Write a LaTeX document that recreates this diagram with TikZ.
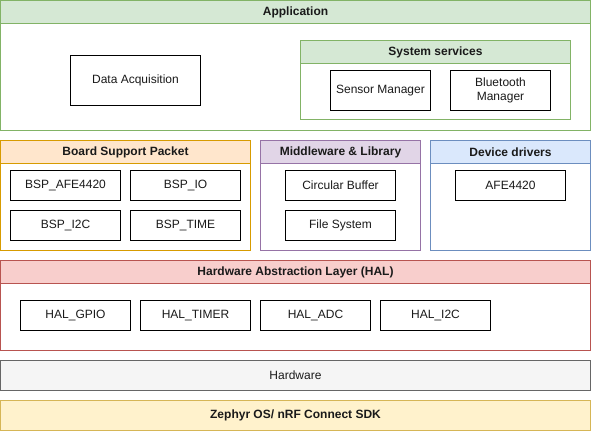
\documentclass[tikz,border=0pt]{standalone}
\usepackage{fontspec}
\setmainfont{Liberation Sans}
\definecolor{grnfill}{HTML}{D5E8D4}\definecolor{grnline}{HTML}{82B366}
\definecolor{orgfill}{HTML}{FFE6CC}\definecolor{orgline}{HTML}{D79B00}
\definecolor{purfill}{HTML}{E1D5E7}\definecolor{purline}{HTML}{9673A6}
\definecolor{blufill}{HTML}{DAE8FC}\definecolor{bluline}{HTML}{6C8EBF}
\definecolor{redfill}{HTML}{F8CECC}\definecolor{redline}{HTML}{B85450}
\definecolor{gryfill}{HTML}{F5F5F5}\definecolor{gryline}{HTML}{666666}
\definecolor{yelfill}{HTML}{FFF2CC}\definecolor{yelline}{HTML}{D6B656}
\definecolor{txt}{HTML}{1A1A1A}
\begin{document}
\begin{tikzpicture}[x=1pt,y=-1pt,
  cell/.style={draw, line width=1pt, rectangle, inner sep=0pt, outer sep=0pt,
    anchor=north west, align=center, text=txt,
    font=\fontsize{12}{14}\selectfont, fill=white},
  hdr/.style={cell, font=\fontsize{12}{14}\selectfont\bfseries},
  item/.style={cell, draw=black},
]
\useasboundingbox (0,0) rectangle (591,431);
% Application
\node[cell, draw=grnline, minimum width=590pt, minimum height=130pt] (app) at (0.5,0.5) {};
\node[hdr, draw=grnline, fill=grnfill, minimum width=590pt, minimum height=23pt] (apph) at (app.north west) {Application};
\node[item, minimum width=130pt, minimum height=50pt] (daq) at (70.5,55.5) {Data Acquisition};
\node[cell, draw=grnline, minimum width=270pt, minimum height=79pt] (sys) at (300.5,40.5) {};
\node[hdr, draw=grnline, fill=grnfill, minimum width=270pt, minimum height=23pt] (sysh) at (sys.north west) {System services};
\node[item, minimum width=100pt, minimum height=40pt] (sen) at (330.5,70.5) {Sensor Manager};
\node[item, minimum width=100pt, minimum height=40pt] (bt) at (450.5,70.5) {Bluetooth\\Manager};
% BSP
\node[cell, draw=orgline, minimum width=250pt, minimum height=110pt] (bsp) at (0.5,140.5) {};
\node[hdr, draw=orgline, fill=orgfill, minimum width=250pt, minimum height=23pt] (bsph) at (bsp.north west) {Board Support Packet};
\node[item, minimum width=110pt, minimum height=30pt] (bafe) at (10.5,170.5) {BSP\_AFE4420};
\node[item, minimum width=110pt, minimum height=30pt] (bio) at (130.5,170.5) {BSP\_IO};
\node[item, minimum width=110pt, minimum height=30pt] (bi2c) at (10.5,210.5) {BSP\_I2C};
\node[item, minimum width=110pt, minimum height=30pt] (btime) at (130.5,210.5) {BSP\_TIME};
% Middleware
\node[cell, draw=purline, minimum width=160pt, minimum height=110pt] (mid) at (260.5,140.5) {};
\node[hdr, draw=purline, fill=purfill, minimum width=160pt, minimum height=23pt] (midh) at (mid.north west) {Middleware \& Library};
\node[item, minimum width=110pt, minimum height=30pt] (cbuf) at (285.5,170.5) {Circular Buffer};
\node[item, minimum width=110pt, minimum height=30pt] (fsys) at (285.5,210.5) {File System};
% Device drivers
\node[cell, draw=bluline, minimum width=160pt, minimum height=110pt] (dev) at (430.5,140.5) {};
\node[hdr, draw=bluline, fill=blufill, minimum width=160pt, minimum height=23pt] (devh) at (dev.north west) {Device drivers};
\node[item, minimum width=110pt, minimum height=30pt] (afe) at (455.5,170.5) {AFE4420};
% HAL
\node[cell, draw=redline, minimum width=590pt, minimum height=90pt] (hal) at (0.5,260.5) {};
\node[hdr, draw=redline, fill=redfill, minimum width=590pt, minimum height=23pt] (halh) at (hal.north west) {Hardware Abstraction Layer (HAL)};
\node[item, minimum width=110pt, minimum height=30pt] (hgpio) at (20.5,300.5) {HAL\_GPIO};
\node[item, minimum width=110pt, minimum height=30pt] (htim) at (140.5,300.5) {HAL\_TIMER};
\node[item, minimum width=110pt, minimum height=30pt] (hadc) at (260.5,300.5) {HAL\_ADC};
\node[item, minimum width=110pt, minimum height=30pt] (hi2c) at (380.5,300.5) {HAL\_I2C};
% Hardware
\node[cell, draw=gryline, fill=gryfill, minimum width=590pt, minimum height=30pt] (hw) at (0.5,360.5) {Hardware};
% Zephyr
\node[hdr, draw=yelline, fill=yelfill, minimum width=590pt, minimum height=30pt] (zep) at (0.5,400.5) {Zephyr OS/ nRF Connect SDK};
\end{tikzpicture}
\end{document}
